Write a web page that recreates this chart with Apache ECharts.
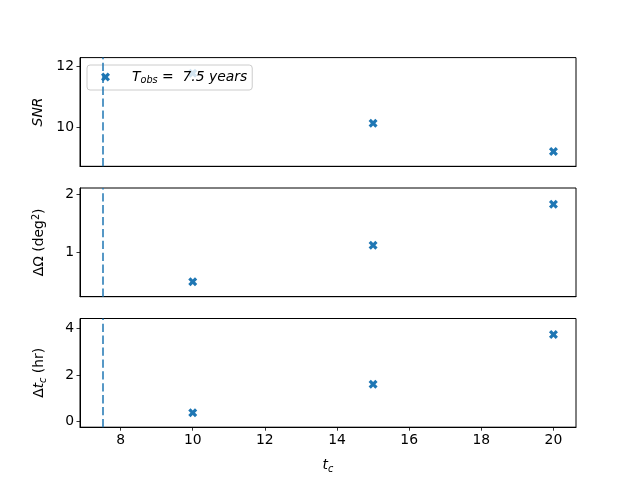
<!DOCTYPE html>
<html><head><meta charset="utf-8">
<script src="https://cdn.jsdelivr.net/npm/echarts@6/dist/echarts.min.js"></script>
<style>html,body{margin:0;padding:0;background:#fff}#c{width:640px;height:480px}</style>
</head><body><div id="c"></div>
<script>
const tc = [10, 15, 20];
const snr = [11.76, 10.13, 9.21];
const dOmega = [0.49, 1.12, 1.83];
const dtc = [0.385, 1.6, 3.73];
const Tobs = 7.5;
const xTicks = [8, 10, 12, 14, 16, 18, 20];
const yTicksSnr = [10, 12];
const yTicksOmega = [1, 2];
const yTicksDtc = [0, 2, 4];

const C = '#1f77b4';
const FONT = 'DejaVu Sans';
const XPATH = 'path://M0.25,0 L0.5,0.25 L0.75,0 L1,0.25 L0.75,0.5 L1,0.75 L0.75,1 L0.5,0.75 L0.25,1 L0,0.75 L0.25,0.5 L0,0.25 Z';
const tops = [57.6, 188.0, 318.5];
const H = 108.7;

const grids = tops.map(t => ({left: 80, width: 496, top: t, height: H, show: true, borderColor: '#000', borderWidth: 1, backgroundColor: 'transparent'}));

function xAx(i) {
  const bottom = i === 2;
  return {
    type: 'value', gridIndex: i, min: 6.875, max: 20.625,
    axisLine: {show: true, onZero: false, lineStyle: {color: '#000', width: 1}},
    axisTick: {show: bottom, length: 3.5, customValues: xTicks, lineStyle: {color: '#000', width: 0.8}},
    axisLabel: {show: bottom, customValues: xTicks, color: '#000', fontFamily: FONT, fontSize: 13.9, margin: 6},
    splitLine: {show: false},
    name: bottom ? '{i|t}{s|c}' : '', nameLocation: 'middle', nameGap: 30,
    nameTextStyle: {rich: {i: {fontFamily: FONT, fontStyle: 'italic', fontSize: 13.9, color: '#000'}, s: {fontFamily: FONT, fontStyle: 'italic', fontSize: 9.7, color: '#000', padding: [7, 0, 0, 0]}}}
  };
}
function yAx(i, mn, mx, ticks, name, gap, rich) {
  return {
    type: 'value', gridIndex: i, min: mn, max: mx,
    axisLine: {show: true, onZero: false, lineStyle: {color: '#000', width: 1}},
    axisTick: {show: true, length: 3.5, customValues: ticks, lineStyle: {color: '#000', width: 0.8}},
    axisLabel: {customValues: ticks, color: '#000', fontFamily: FONT, fontSize: 13.9, margin: 6},
    splitLine: {show: false},
    name: name, nameLocation: 'middle', nameGap: gap, nameRotate: 90,
    nameTextStyle: {rich: rich}
  };
}
const base = {fontFamily: FONT, fontSize: 13.9, color: '#000'};
const richSnr = {i: Object.assign({}, base, {fontStyle: 'italic'})};
const richOm = {n: base, sup: Object.assign({}, base, {fontSize: 9.7, padding: [0, 0, 7, 0]})};
const richDt = {n: base, i: Object.assign({}, base, {fontStyle: 'italic'}), s: Object.assign({}, base, {fontStyle: 'italic', fontSize: 9.7, padding: [7, 0, 0, 0]})};

function ser(i, vals, name) {
  return {
    type: 'scatter', name: name, xAxisIndex: i, yAxisIndex: i,
    data: tc.map((x, k) => [x, vals[k]]),
    symbol: XPATH, symbolSize: 9, itemStyle: {color: C, opacity: 1}, z: 3,
    markLine: {silent: true, symbol: ['none', 'none'], label: {show: false}, animation: false,
      lineStyle: {color: C, type: [8.3, 3.6], width: 1.5, opacity: 1}, data: [{xAxis: Tobs}]}
  };
}

const chart = echarts.init(document.getElementById('c'), null, {renderer: 'canvas'});
chart.setOption({
  animation: false,
  backgroundColor: '#fff',
  grid: grids,
  xAxis: [xAx(0), xAx(1), xAx(2)],
  yAxis: [
    yAx(0, 8.728, 12.274, yTicksSnr, '{i|SNR}', 26, richSnr),
    yAx(1, 0.234, 2.109, yTicksOmega, '{n|ΔΩ (deg}{sup|2}{n|)}', 32, richOm),
    yAx(2, -0.236, 4.42, yTicksDtc, '{n|Δ}{i|t}{s|c}{n| (hr)}', 32, richDt)
  ],
  legend: {
    data: ['Tobs'], left: 87, top: 65, orient: 'vertical',
    icon: XPATH, itemWidth: 9, itemHeight: 9,
    padding: [5, 5, 5, 14],
    backgroundColor: 'rgba(255,255,255,0.8)', borderColor: '#cccccc', borderWidth: 1, borderRadius: 3,
    formatter: () => '{i|T}{s|obs}{i| =  7.5 years}',
    textStyle: {padding: [0, 0, 0, 17], rich: {
      i: {fontFamily: FONT, fontStyle: 'italic', fontSize: 13.9, color: '#000'},
      s: {fontFamily: FONT, fontStyle: 'italic', fontSize: 9.7, color: '#000', padding: [6, 0, 0, 0]}
    }}
  },
  series: [ser(0, snr, 'Tobs'), ser(1, dOmega, 'omega'), ser(2, dtc, 'dtc')]
});
</script></body></html>
